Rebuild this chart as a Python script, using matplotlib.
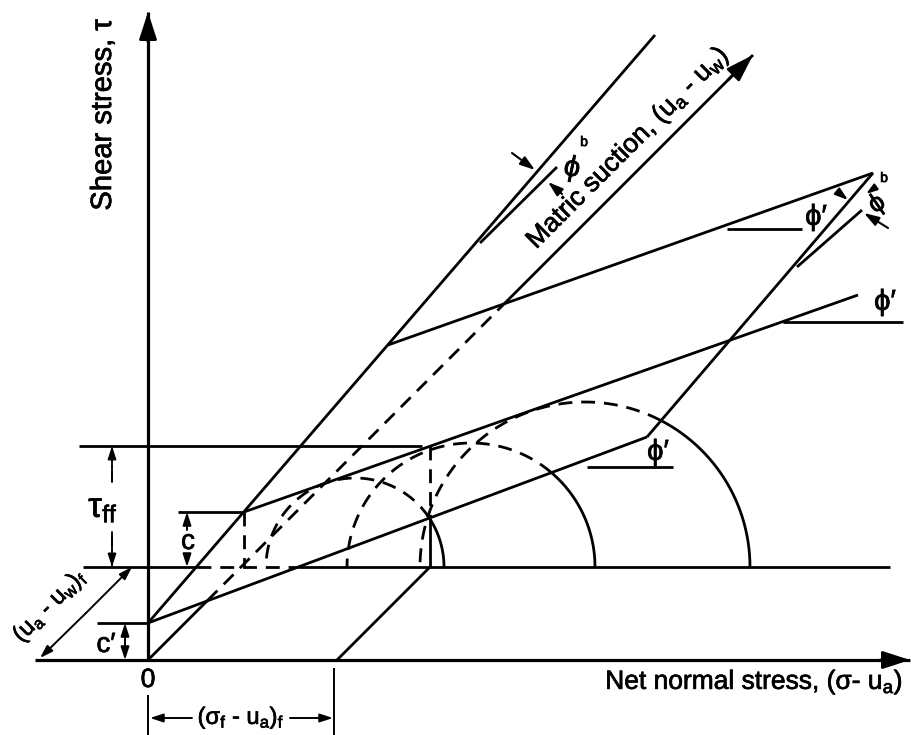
import numpy as np
import matplotlib.pyplot as plt
import matplotlib.patheffects as pe
from matplotlib.path import Path

plt.rcParams['font.family'] = ['Liberation Sans', 'DejaVu Sans']
plt.rcParams['mathtext.fontset'] = 'custom'
plt.rcParams['mathtext.rm'] = 'Liberation Sans'
plt.rcParams['mathtext.it'] = 'Liberation Sans'

# axes, in drawing units (origin = zero net normal stress, zero shear)
sigma_axis = [-113, 762]
tau_axis_top = 648
suction_axis_end = 605

# failure plane: c' intercept, end of phi' edge, far corner, top of phi^b edge
plane_x = [0, 499, 725, 240]
plane_y = [37, 223, 487, 315]
phib_edge_x = [0, 507]
phib_edge_y = [37, 625]

# envelope and stress state at matric suction (ua - uw)_f
suction_f = 93
c_point = (96, 148)
mid_env_x = [96, 710]
mid_env_y = [148, 365]
baseline_x = [-65, 742]
tau_ff = 214
sigma_ff = 189
ff_point_x = 282

# Mohr circles drawn on the (ua - uw)_f plane
circle_centres = [207, 323, 437]
circle_radii = [89, 124, 165]

# phi' reference lines (x0, x1, y) and phi^b reference lines
phi_refs = [(439, 525, 193), (635, 755, 338), (579, 654, 431)]
phi_labels = [(510, 208), (737, 358), (668, 443)]
phib_refs = [((332, 417), (409, 493)), ((649, 393), (714, 450))]

LW = 2.0
DASH = (0, (5, 3.2))
INK = [pe.withStroke(linewidth=0.5, foreground='black')]

fig = plt.figure(figsize=(9.12, 7.35), dpi=100)
ax = fig.add_axes([0, 0, 1, 1])
ax.set_xlim(-148, 764)
ax.set_ylim(-75, 660)
ax.axis('off')

plane = Path(np.column_stack([plane_x, plane_y]))


def line(x, y, ls='-', lw=LW):
    ax.plot(x, y, color='black', lw=lw, ls=ls, solid_capstyle='butt')


def label(x, y, s, size, **kw):
    ax.text(x, y, s, fontsize=size, ha='center', va='center', path_effects=INK, **kw)


def split_draw(xs, ys, first_only=False):
    # solid where the curve is in front of the failure plane, dashed behind it
    inside = plane.contains_points(np.column_stack([xs, ys]))
    if first_only:
        inside = np.maximum.accumulate(inside)
    cuts = list(np.flatnonzero(np.diff(inside.astype(int))) + 1) + [len(xs)]
    start = 0
    for stop in cuts:
        seg = slice(start, min(stop + 1, len(xs)))
        line(xs[seg], ys[seg], ls=DASH if inside[start] else '-')
        start = stop


def arrow(tip, tail, head=1.0, lw=LW, style='-|>'):
    ax.annotate('', xy=tip, xytext=tail,
                arrowprops=dict(arrowstyle=f'{style},head_length={0.8*head},head_width={0.26*head}',
                                color='black', lw=lw, shrinkA=0, shrinkB=0,
                                mutation_scale=16))


# main axes
line(sigma_axis, [0, 0], lw=2.3)
arrow((sigma_axis[1], 0), (sigma_axis[1] - 30, 0), head=1.3, lw=2.0)
line([0, 0], [0, tau_axis_top], lw=2.3)
arrow((0, tau_axis_top), (0, tau_axis_top - 30), head=1.3, lw=2.0)

t = np.linspace(0, suction_axis_end, 600)
split_draw(t, t)
arrow((suction_axis_end, suction_axis_end), (suction_axis_end - 25, suction_axis_end - 25), head=1.3)

# failure plane edges
line(plane_x[:2], plane_y[:2])
line(plane_x[1:3], plane_y[1:3])
line([plane_x[3], plane_x[2]], [plane_y[3], plane_y[2]])
line(phib_edge_x, phib_edge_y)

# envelope at (ua - uw)_f and its zero-shear baseline
line(mid_env_x, mid_env_y)
bx = np.linspace(*baseline_x, 800)
split_draw(bx, np.full_like(bx, suction_f))

# projection of the failure state
line([-69, ff_point_x - 8], [tau_ff, tau_ff])
fy = np.linspace(tau_ff, suction_f, 200)
split_draw(np.full_like(fy, ff_point_x), fy)
line([sigma_ff, ff_point_x], [0, suction_f])
line([c_point[0], c_point[0]], [c_point[1], suction_f], ls=DASH)
line([30, c_point[0]], [c_point[1], c_point[1]])
line([-51, 0], [37, 37])

# Mohr circles
th = np.linspace(0, np.pi, 500)
for cx, r in zip(circle_centres, circle_radii):
    split_draw(cx + r * np.cos(th), suction_f + r * np.sin(th), first_only=True)

# phi' and phi^b angle references
for (x0, x1, y), (lx, ly) in zip(phi_refs, phi_labels):
    line([x0, x1], [y, y])
    label(lx, ly, 'ϕ′', 21)
for p0, p1 in phib_refs:
    line([p0[0], p1[0]], [p0[1], p1[1]])
arrow((387, 490), (364, 507), head=0.7, lw=1.5)
arrow((400, 478), (414, 466), head=0.7, lw=1.5)
arrow((716, 447), (740, 432), head=0.7, lw=1.5)
arrow((718, 466), (725, 471), head=0.5, lw=1.5)
arrow((700, 460), (690, 468), head=0.6, lw=1.5)
label(424, 492, 'ϕ', 21, rotation=-12)
label(436, 518, 'b', 10)
label(729, 456, 'ϕ', 19, rotation=35)
label(736, 482, 'b', 10)

# dimension marks
arrow((-36, tau_ff), (-36, 178), head=0.6, lw=1.3)
arrow((-36, suction_f), (-36, 128), head=0.6, lw=1.3)
ax.plot([-36, -36], [178, 214], color='black', lw=1.3, ls=(0, (6, 2, 1, 2)))
ax.plot([-36, -36], [93, 128], color='black', lw=1.3, ls=(0, (6, 2, 1, 2)))
label(-45, 152, r'τ$_{\rm ff}$', 25)

arrow((39, c_point[1]), (39, 130), head=0.6, lw=1.4)
arrow((39, suction_f), (39, 106), head=0.6, lw=1.4)
label(40, 118, 'c', 20)

arrow((-23, 37), (-23, 18), head=0.6, lw=1.4)
arrow((-23, 0), (-23, 18), head=0.6, lw=1.4)
label(-42, 15, 'c′', 20)

arrow((-16, suction_f), (-62, 47), head=0.6, lw=1.4)
arrow((-108, 2), (-62, 47), head=0.6, lw=1.4)
label(-98, 54, r'(u$_{\rm a}$ - u$_{\rm w}$)$_{\rm f}$', 17,
      rotation=45, rotation_mode='anchor')

line([0, 0], [-35, -75], lw=1.4)
line([sigma_ff - 3, sigma_ff - 3], [-8, -75], lw=1.4)
arrow((2, -58), (44, -58), head=0.6, lw=1.4)
arrow((sigma_ff - 4, -58), (142, -58), head=0.6, lw=1.4)
label(93, -58, r'(σ$_{\rm f}$ - u$_{\rm a}$)$_{\rm f}$', 17)

# axis titles
label(0, -20, '0', 19)
label(-45, 545, 'Shear stress, τ', 21, rotation=90)
label(606, -22, r'Net normal stress, (σ- u$_{\rm a}$)', 19)
label(480, 512, r'Matric suction, (u$_{\rm a}$ - u$_{\rm w}$)', 19,
      rotation=45, rotation_mode='anchor')

fig.savefig('out.png', dpi=100)
